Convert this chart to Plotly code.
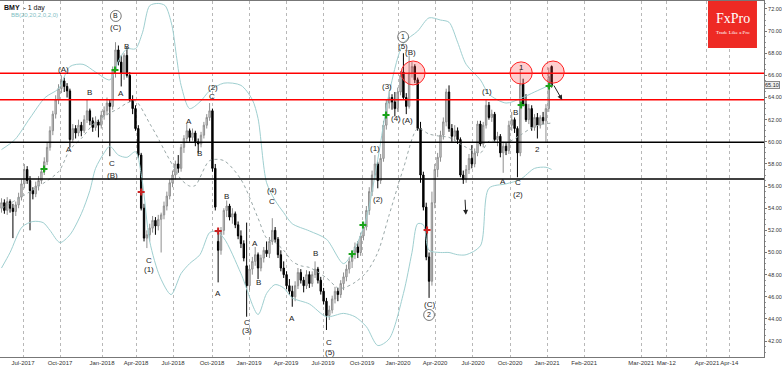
import plotly.graph_objects as go

# ---------------- data (weekly bars, index 0..193) ----------------
opens = [54.0,54.5,53.8,54.6,54.0,53.7,54.3,55.0,56.2,57.5,56.5,55.6,55.3,56.0,56.5,57.3,58.2,59.5,61.0,62.5,
         63.8,64.8,65.5,65.0,64.6,60.2,61.2,60.8,61.5,61.0,62.0,62.8,61.9,61.3,61.8,61.5,62.4,62.8,63.5,63.2,
         66.4,68.3,67.2,66.2,67.8,66.0,63.8,63.0,61.2,58.8,54.0,51.3,51.6,52.2,52.9,52.4,53.0,53.4,54.2,55.1,
         56.3,57.0,58.0,57.6,59.5,60.3,61.0,60.4,60.8,60.0,59.8,60.6,61.5,62.2,62.8,57.6,51.0,50.2,52.0,53.8,
         54.2,53.2,53.5,52.5,51.5,50.8,48.8,47.0,48.5,49.2,49.8,48.6,49.5,50.2,49.9,51.0,52.0,51.2,49.8,48.6,
         48.0,47.0,46.5,46.0,47.0,48.2,47.5,47.0,48.0,47.2,48.0,48.5,47.5,46.5,45.6,44.3,44.8,45.8,46.5,46.2,
         47.2,47.8,48.5,49.2,49.8,50.5,50.0,51.5,52.3,53.8,55.5,57.0,58.0,56.5,58.5,61.5,63.5,64.0,63.6,63.0,
         64.5,66.3,64.0,63.2,66.2,66.8,65.6,61.2,57.0,54.1,49.6,47.4,54.5,57.5,58.6,60.6,61.8,64.5,61.2,60.5,
         61.0,60.2,57.0,56.6,57.5,58.5,58.0,59.0,61.6,59.8,61.5,63.3,62.2,62.5,60.2,60.5,59.0,59.6,59.2,61.5,
         62.0,61.2,59.0,65.2,63.4,62.0,63.0,61.3,62.2,61.5,62.2,61.9,63.0,66.8]
highs = [54.9,54.8,55.0,54.8,54.4,54.6,55.4,56.6,58.0,57.8,56.9,55.9,56.4,56.9,57.6,58.6,59.9,61.4,62.8,64.2,
         65.2,66.0,65.8,65.3,64.8,61.6,61.5,62.0,61.8,62.4,63.8,63.0,62.2,62.3,62.0,62.8,63.2,64.0,63.8,66.8,
         69.0,68.7,67.8,68.0,68.6,66.3,64.2,63.3,61.5,59.0,54.4,52.0,52.6,53.3,53.2,53.4,53.6,54.6,55.5,56.6,
         57.4,58.3,58.8,59.8,60.6,61.6,61.2,61.2,61.0,60.3,60.9,61.8,62.5,63.5,63.0,58.0,52.1,52.3,54.0,54.7,
         54.4,54.0,53.7,52.8,52.0,51.1,52.7,48.9,49.6,50.5,50.0,49.8,50.5,51.0,51.4,53.1,52.3,51.4,50.2,49.2,
         48.3,47.6,47.0,47.4,48.6,48.5,47.8,48.4,48.3,48.3,49.2,48.7,47.8,46.8,45.9,45.2,46.1,46.9,46.8,47.5,
         48.2,48.9,49.6,50.2,50.9,51.0,51.8,52.7,54.2,55.9,57.4,58.8,58.2,58.9,61.9,63.8,64.6,64.3,64.5,64.9,
         66.4,68.0,64.4,67.8,67.2,67.0,65.8,61.8,57.3,54.5,50.0,55.5,58.0,59.0,61.0,62.2,64.8,65.1,61.6,61.5,
         61.3,60.4,57.4,57.9,58.9,59.7,59.4,61.9,61.9,61.8,63.8,63.6,62.9,62.7,60.9,60.7,60.0,59.9,61.9,62.7,
         62.2,61.4,66.6,65.7,64.3,63.4,63.3,62.5,62.6,62.4,62.7,63.4,66.7,66.9]
lows = [53.6,53.5,53.4,53.6,51.3,53.3,54.0,54.7,55.8,56.2,52.0,54.8,55.0,55.6,56.2,57.0,57.9,59.2,60.6,62.1,
        63.4,64.4,64.5,64.0,59.5,59.9,60.3,60.5,60.5,60.8,61.7,61.5,60.9,61.0,60.4,61.2,62.0,62.4,58.7,62.9,
        65.8,66.9,65.0,65.6,65.8,63.6,62.5,61.0,58.5,53.8,51.0,50.4,51.0,51.8,51.6,52.0,50.0,53.0,53.8,54.8,
        55.9,56.6,57.2,57.3,59.0,60.0,60.0,60.1,59.6,59.0,59.5,60.3,61.2,61.9,57.3,53.8,47.3,49.8,51.6,53.2,
        52.9,52.6,52.2,51.2,50.4,49.2,44.2,46.6,48.0,48.8,47.6,48.3,49.1,49.6,49.5,50.7,50.9,49.5,48.3,47.7,
        46.7,46.2,45.1,45.6,46.7,47.2,46.4,46.7,46.8,46.9,47.7,47.2,46.2,45.3,43.0,43.9,44.5,45.4,45.6,45.9,
        46.6,47.4,48.1,48.6,49.4,49.5,49.7,51.1,52.0,53.4,55.1,56.6,55.8,56.2,58.2,61.1,63.0,62.9,62.3,62.7,
        64.2,63.8,62.5,63.0,65.8,65.3,61.0,56.3,53.8,49.3,45.9,47.0,54.0,56.8,58.2,60.2,61.4,60.9,60.0,60.1,
        59.8,56.8,56.2,56.3,57.1,57.6,57.7,58.7,59.6,59.5,61.2,62.0,61.8,60.0,59.6,58.6,57.2,58.8,58.9,61.0,
        60.8,56.8,58.7,63.2,61.8,61.6,61.0,61.0,60.3,61.2,61.6,60.0,62.7,64.9]
closes = [54.5,53.8,54.6,54.0,53.7,54.3,55.0,56.2,57.5,56.5,55.6,55.3,56.0,56.5,57.3,58.2,59.5,61.0,62.5,63.8,
          64.8,65.5,65.0,64.6,60.2,61.2,60.8,61.5,61.0,62.0,62.8,61.9,61.3,61.8,61.5,62.4,62.8,63.5,63.2,66.4,
          68.3,67.2,66.2,67.8,66.0,63.8,63.0,61.2,58.8,54.0,51.3,51.6,52.2,52.9,52.4,53.0,53.4,54.2,55.1,56.3,
          57.0,58.0,57.6,59.5,60.3,61.0,60.4,60.8,60.0,59.8,60.6,61.5,62.2,62.8,57.6,54.1,50.2,52.0,53.8,54.2,
          53.2,53.5,52.5,51.5,50.8,49.5,47.0,48.5,49.2,49.8,48.6,49.5,50.2,49.9,51.0,52.0,51.2,49.8,48.6,48.0,
          47.0,46.5,46.0,47.0,48.2,47.5,47.0,48.0,47.2,48.0,48.5,47.5,46.5,45.6,44.3,44.8,45.8,46.5,46.2,47.2,
          47.8,48.5,49.2,49.8,50.5,50.0,51.5,52.3,53.8,55.5,57.0,58.0,56.5,58.5,61.5,63.5,64.0,63.6,63.0,64.5,
          66.0,64.0,63.2,66.2,66.8,65.6,61.2,57.0,54.1,49.6,47.4,54.5,57.5,58.6,60.6,61.8,64.5,61.2,60.5,61.0,
          60.2,57.0,56.6,57.5,58.5,58.0,59.0,61.6,59.8,61.5,63.3,62.2,62.5,60.2,60.5,59.0,59.6,59.2,61.5,62.0,
          61.2,59.0,65.2,63.4,62.0,63.0,61.3,62.2,61.5,62.2,61.9,63.0,65.9,65.1]
bars = list(range(len(closes)))

# Bollinger band (20, 2) readings: bar index and price
bb_up_x = [0,4.7,10,15.3,20,24,28.6,33,38,41,44,47,49.5,52,55,57.4,59.8,61.5,63,66,69.6,73,78,84,88,90,93,96,99,102,108,114,120,124,128,132,136,141,146,150,154,157,160,163,168,171,177,182,187,193]
bb_up_y = [59.3,60.2,62.15,64.0,64.8,66.8,67.0,66.3,65.6,67.3,68.4,68.4,69.9,72.3,72.5,72.3,70.5,67.5,65.1,63.0,63.6,64.6,65.3,65.1,63.8,62.1,56.3,54.7,53.6,52.6,51.95,51.2,49.0,50.4,53.1,58.4,64.4,68.9,70.0,71.2,71.0,70.8,69.0,67.0,65.6,64.3,63.5,63.9,64.5,65.2]
bb_lo_x = [0,3,7.2,11,14.6,17,20.5,24,28,31,33,36,38,41,44,47,49.3,52,55.6,59.5,63,66,69.6,73,75,78,84,90,93,96,99,102,108,114,120,124,128,132,136,141,144,146,148,150,154,157,160,163,168,171,177,182,187,191,193]
bb_lo_y = [48.6,50.0,52.3,52.8,52.7,52.0,50.9,51.6,53.5,55.6,57.6,59.0,59.6,58.8,58.6,59.1,56.6,51.0,47.8,46.2,48.1,49.0,49.8,51.8,51.9,51.3,48.1,44.4,46.3,47.1,46.8,45.9,45.35,44.2,44.5,44.2,43.3,41.6,42.2,46.3,50.0,52.6,52.5,50.2,50.0,50.0,49.8,49.8,50.6,55.8,56.2,56.6,57.6,57.7,57.5]
bb_mid_x = [0,10,20,24,28,33,38,41,44,47,52,55,57,60,63,66,68,73,78,84,90,93,96,99,102,105,108,114,118,120,124,128,132,136,141,146,150,154,157,163,168,171,177,182,187,193]
bb_mid_y = [54.0,55.5,57.3,59.3,60.3,61.8,62.6,63.0,63.5,63.7,61.65,60.3,59.3,57.9,56.6,56.0,56.05,58.3,58.3,56.6,53.1,51.3,50.9,50.2,49.2,48.8,48.65,47.7,46.8,46.8,47.3,48.2,50.0,53.4,57.6,61.2,60.7,60.5,60.4,59.5,59.0,60.05,59.9,60.6,61.4,61.7]

resistance_levels = [66.2, 63.8]
support_levels = [59.95, 56.65]

x_tick_bars = [7.54,20.53,35.26,47.19,60.18,73.86,86.84,99.82,112.8,126.5,139.1,152.1,165.4,178.4,191.4,204.4,224.4,233.2,247.5,255.3]
x_tick_text = ["Jul-2017","Oct-2017","Jan-2018","Apr-2018","Jul-2018","Oct-2018","Jan-2019","Apr-2019","Jul-2019","Oct-2019",
               "Jan-2020","Apr-2020","Jul-2020","Oct-2020","Jan-2021","Feb-2021","Mar-2021","Mar-12","Apr-2021","Apr-14"]
y_tick_vals = [42,44,46,48,50,52,54,56,58,60,62,64,66,68,70,72]

wave_labels = [
    (21.9,66.49,"(A)"),(23.7,59.35,"A"),(30.7,64.41,"B"),(38.8,58.0,"C"),(38.8,57.0,"(B)"),
    (40.1,70.37,"(C)"),(41.9,64.32,"A"),(43.9,68.59,"B"),(51.8,49.32,"C"),(51.8,48.51,"(1)"),
    (65.8,61.88,"A"),(69.6,58.9,"B"),(74.2,64.95,"(2)"),(73.9,64.05,"C"),(79.1,55.1,"B"),(76.0,46.34,"A"),
    (88.9,50.77,"A"),(90.0,47.25,"B"),(86.1,43.72,"C"),(86.1,42.91,"(3)"),(94.9,55.56,"(4)"),(94.9,54.57,"C"),
    (101.9,44.0,"A"),(110.0,49.87,"B"),(114.9,41.83,"C"),(115.3,40.93,"(5)"),
    (131.1,59.44,"(1)"),(132.1,54.75,"(2)"),(135.3,65.04,"(3)"),(138.5,62.15,"(4)"),(142.6,61.97,"(A)"),
    (140.9,68.57,"(5)"),(143.5,68.05,"(B)"),(150.0,45.26,"(C)"),
    (170.4,64.59,"(1)"),(176.0,56.37,"A"),(180.2,62.69,"B"),(181.2,56.28,"C"),(181.2,55.2,"(2)"),
    (182.3,66.67,"1"),(188.2,59.35,"2"),
]
circled_labels = [(40.1,71.37,"B"),(140.9,69.47,"1"),(150.0,44.36,"2")]
green_signal_x = [14.9,39.8,123.0,126.8,134.9,182.3,192.1]
green_signal_y = [57.55,66.49,49.87,52.49,62.42,63.33,65.04]
red_signal_x = [49.0,76.0,149.3]
red_signal_y = [55.47,51.95,52.04]
highlight_circles = [(144.4,66.22,4.2,1.08),(182.3,66.22,3.9,1.0),(193.5,66.3,3.9,1.0)]

# ---------------- figure ----------------
fig = go.Figure()
band_col = "#9fcfd0"
fig.add_trace(go.Scatter(x=bb_up_x, y=bb_up_y, mode="lines", line=dict(color=band_col, width=1, shape="spline", smoothing=0.8), hoverinfo="skip"))
fig.add_trace(go.Scatter(x=bb_lo_x, y=bb_lo_y, mode="lines", line=dict(color=band_col, width=1, shape="spline", smoothing=0.8), hoverinfo="skip"))
fig.add_trace(go.Scatter(x=bb_mid_x, y=bb_mid_y, mode="lines", line=dict(color="#9aa8a8", width=1, dash="dot", shape="spline", smoothing=0.8), hoverinfo="skip"))

fig.add_trace(go.Candlestick(
    x=bars, open=opens, high=highs, low=lows, close=closes,
    increasing=dict(line=dict(color="#8f8f8f", width=1), fillcolor="#d6d6d6"),
    decreasing=dict(line=dict(color="#000000", width=1), fillcolor="#000000"),
    whiskerwidth=0, showlegend=False))

fig.add_trace(go.Scatter(x=green_signal_x, y=green_signal_y, mode="markers",
                         marker=dict(symbol="cross-thin", size=5, line=dict(color="#1aa31a", width=2)), hoverinfo="skip"))
fig.add_trace(go.Scatter(x=red_signal_x, y=red_signal_y, mode="markers",
                         marker=dict(symbol="cross-thin", size=5, line=dict(color="#cc2222", width=2)), hoverinfo="skip"))

shapes = []
for lv in resistance_levels:
    shapes.append(dict(type="line", xref="paper", yref="y", x0=0, x1=1, y0=lv, y1=lv, line=dict(color="#ff0000", width=1.5), layer="above"))
for lv in support_levels:
    shapes.append(dict(type="line", xref="paper", yref="y", x0=0, x1=1, y0=lv, y1=lv, line=dict(color="#000000", width=1.5), layer="above"))
for cx, cy, rx, ry in highlight_circles:
    shapes.append(dict(type="circle", xref="x", yref="y", x0=cx-rx, x1=cx+rx, y0=cy-ry, y1=cy+ry,
                       line=dict(color="#ff2222", width=1), fillcolor="rgba(255,60,60,0.25)", layer="above"))
for cx, cy, t in circled_labels:
    shapes.append(dict(type="circle", xref="x", yref="y", x0=cx-1.9, x1=cx+1.9, y0=cy-0.5, y1=cy+0.5,
                       line=dict(color="#555555", width=0.8), layer="above"))
# logo box
shapes.append(dict(type="rect", xref="paper", yref="paper", x0=0.9267, x1=0.9908, y0=0.868, y1=1.0,
                   fillcolor="#ee2a24", line=dict(width=0), layer="above"))

ann = []
for x, y, t in wave_labels:
    ann.append(dict(x=x, y=y, text=t, showarrow=False, font=dict(family="Liberation Sans, Arial", size=8, color="#222222")))
for x, y, t in circled_labels:
    ann.append(dict(x=x, y=y, text=t, showarrow=False, font=dict(family="Liberation Sans, Arial", size=7, color="#222222")))
# arrows
ann.append(dict(x=196.7, y=63.78, ax=193.5, ay=65.22, xref="x", yref="y", axref="x", ayref="y", text="",
                showarrow=True, arrowhead=2, arrowsize=1, arrowwidth=1, arrowcolor="#222222"))
ann.append(dict(x=162.9, y=53.4, ax=162.6, ay=54.9, xref="x", yref="y", axref="x", ayref="y", text="",
                showarrow=True, arrowhead=2, arrowsize=1, arrowwidth=1, arrowcolor="#222222"))
# header texts
ann.append(dict(xref="paper", yref="paper", x=0.003, y=0.998, xanchor="left", yanchor="top", text="<b>BMY</b>  - 1 day",
                showarrow=False, font=dict(family="Liberation Sans, Arial", size=7, color="#111111")))
ann.append(dict(xref="paper", yref="paper", x=0.012, y=0.975, xanchor="left", yanchor="top", text="BB(20,20,2,0,2,0)",
                showarrow=False, font=dict(family="Liberation Sans, Arial", size=6, color="#7fc0c4")))
ann.append(dict(xref="paper", yref="paper", x=0.9588, y=0.952, xanchor="center", yanchor="middle", text="FxPro", showarrow=False,
                font=dict(family="Liberation Serif, Times New Roman", size=14, color="white")))
ann.append(dict(xref="paper", yref="paper", x=0.9588, y=0.912, xanchor="center", yanchor="middle", text="Trade Like a Pro", showarrow=False,
                font=dict(family="Liberation Serif, Times New Roman", size=5, color="white")))
# current price tag
ann.append(dict(xref="paper", yref="y", x=1.0, y=closes[-1], xanchor="left", text=f"{closes[-1]:.2f}", showarrow=False,
                font=dict(family="Liberation Sans, Arial", size=5.5, color="#222222"), bgcolor="#eeeeee",
                bordercolor="#888888", borderwidth=1, borderpad=0))

fig.update_layout(
    width=782, height=366, margin=dict(l=0, r=18, t=1, b=9),
    paper_bgcolor="white", plot_bgcolor="white", showlegend=False,
    shapes=shapes, annotations=ann,
    xaxis=dict(range=[-0.53, 267.5], tickmode="array", tickvals=x_tick_bars, ticktext=x_tick_text,
               tickangle=0, automargin=False,
               showgrid=True, gridcolor="#b8b8b8", griddash="dot", gridwidth=1,
               tickfont=dict(family="Liberation Sans, Arial", size=6, color="#333333"),
               showline=True, linecolor="#777777", mirror=True, rangeslider=dict(visible=False),
               zeroline=False, ticks="", ticklen=0),
    yaxis=dict(range=[40.56, 72.72], side="right", tickmode="array", tickvals=y_tick_vals, automargin=False,
               ticktext=[f"{v:.2f}" for v in y_tick_vals], showgrid=False, zeroline=False,
               tickfont=dict(family="Liberation Sans, Arial", size=5.5, color="#333333"),
               showline=True, linecolor="#777777", mirror=True, ticks="outside", ticklen=2, tickcolor="#777777",
               minor=dict(dtick=0.5, ticks="outside", ticklen=1, tickcolor="#999999")),
)
fig.write_html("out.html", config={"displayModeBar": False},
               post_script="document.body.style.margin='0';document.body.style.padding='0';")
